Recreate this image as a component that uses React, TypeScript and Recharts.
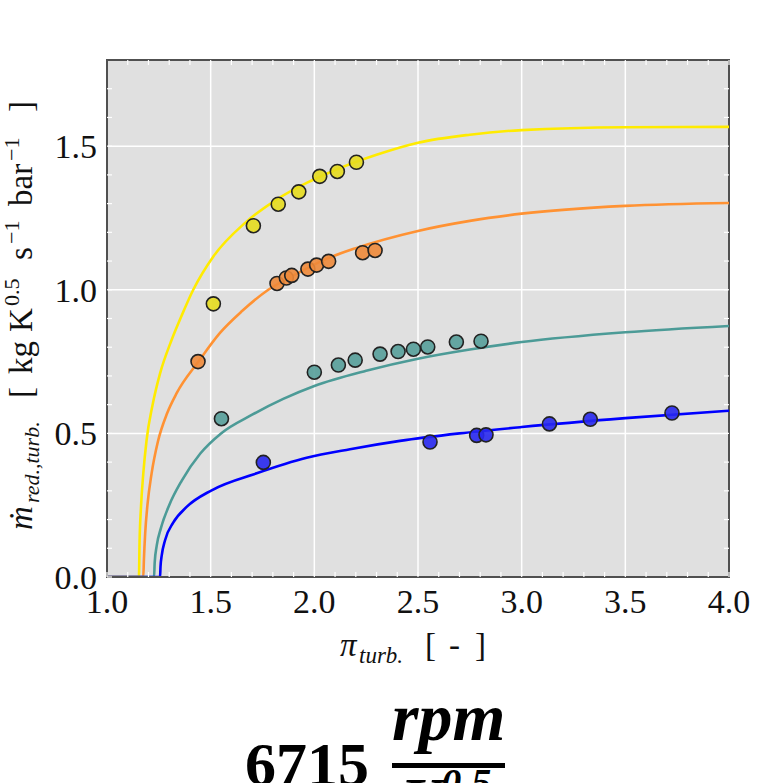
import React from 'react'
import {
  CartesianGrid,
  ComposedChart,
  Line,
  ReferenceArea,
  ReferenceLine,
  Scatter,
  XAxis,
  YAxis,
} from 'recharts'

// axis ticks
const xMajorTicks = [1.0, 1.5, 2.0, 2.5, 3.0, 3.5, 4.0]
const yMajorTicks = [0.0, 0.5, 1.0, 1.5]
const xAllTicks = [
  1.0, 1.1, 1.2, 1.3, 1.4, 1.5, 1.6, 1.7, 1.8, 1.9, 2.0, 2.1, 2.2, 2.3, 2.4, 2.5,
  2.6, 2.7, 2.8, 2.9, 3.0, 3.1, 3.2, 3.3, 3.4, 3.5, 3.6, 3.7, 3.8, 3.9, 4.0,
]
const yAllTicks = [
  0.0, 0.1, 0.2, 0.3, 0.4, 0.5, 0.6, 0.7, 0.8, 0.9, 1.0, 1.1, 1.2, 1.3, 1.4, 1.5, 1.6, 1.7,
]

// measured points (pi_turb, m_red)
const yellowPtsX = [1.513, 1.706, 1.826, 1.925, 2.026, 2.111, 2.203]
const yellowPtsY = [0.951, 1.223, 1.298, 1.341, 1.395, 1.412, 1.444]
const orangePtsX = [1.439, 1.82, 1.865, 1.891, 1.969, 2.011, 2.069, 2.233, 2.293]
const orangePtsY = [0.75, 1.022, 1.041, 1.05, 1.072, 1.086, 1.099, 1.129, 1.137]
const tealPtsX = [1.552, 2.0, 2.116, 2.197, 2.317, 2.404, 2.478, 2.547, 2.685, 2.804]
const tealPtsY = [0.551, 0.713, 0.738, 0.755, 0.776, 0.785, 0.793, 0.801, 0.818, 0.821]
const bluePtsX = [1.754, 2.558, 2.783, 2.828, 3.134, 3.331, 3.725]
const bluePtsY = [0.399, 0.47, 0.493, 0.495, 0.533, 0.549, 0.571]

// fitted map curves
const yellowCurveX = [1.0, 1.154, 1.157, 1.164, 1.175, 1.191, 1.22, 1.256, 1.312, 1.36, 1.416, 1.513, 1.666, 1.818, 1.963, 2.108, 2.3, 2.5, 2.75, 3.0, 3.5, 4.0]
const yellowCurveY = [0, 0, 0.12, 0.244, 0.36, 0.477, 0.6, 0.709, 0.826, 0.91, 1.0, 1.116, 1.233, 1.314, 1.372, 1.419, 1.47, 1.512, 1.54, 1.556, 1.566, 1.567]
const orangeCurveX = [1.0, 1.175, 1.178, 1.184, 1.195, 1.215, 1.245, 1.29, 1.336, 1.441, 1.545, 1.65, 1.778, 1.9, 2.05, 2.2, 2.5, 2.75, 3.0, 3.5, 4.0]
const orangeCurveY = [0, 0, 0.06, 0.15, 0.25, 0.36, 0.47, 0.57, 0.64, 0.75, 0.85, 0.925, 1.0, 1.05, 1.105, 1.145, 1.205, 1.24, 1.265, 1.292, 1.302]
const tealCurveX = [1.0, 1.227, 1.23, 1.24, 1.26, 1.3, 1.36, 1.45, 1.55, 1.7, 1.85, 2.0, 2.25, 2.5, 2.75, 3.0, 3.5, 4.0]
const tealCurveY = [0, 0, 0.05, 0.11, 0.17, 0.25, 0.335, 0.43, 0.5, 0.565, 0.62, 0.665, 0.718, 0.76, 0.792, 0.818, 0.852, 0.874]
const blueCurveX = [1.0, 1.256, 1.258, 1.264, 1.28, 1.32, 1.384, 1.505, 1.722, 1.963, 2.172, 2.413, 2.7, 3.0, 3.5, 4.0]
const blueCurveY = [0, 0, 0.035, 0.075, 0.128, 0.19, 0.244, 0.302, 0.361, 0.415, 0.445, 0.474, 0.5, 0.522, 0.553, 0.579]

const zip = (xs: number[], ys: number[]) => xs.map((x, i) => ({ x, y: ys[i] }))

const series = [
  { name: 'y', curve: zip(yellowCurveX, yellowCurveY), pts: zip(yellowPtsX, yellowPtsY), line: '#FFEB00', dot: '#E6DC1E' },
  { name: 'o', curve: zip(orangeCurveX, orangeCurveY), pts: zip(orangePtsX, orangePtsY), line: '#FF9233', dot: '#EE8A3A' },
  { name: 't', curve: zip(tealCurveX, tealCurveY), pts: zip(tealPtsX, tealPtsY), line: '#4C9B97', dot: '#569F9A' },
  { name: 'b', curve: zip(blueCurveX, blueCurveY), pts: zip(bluePtsX, bluePtsY), line: '#0000FF', dot: '#2828EE' },
]

const SERIF = '"Liberation Serif", "DejaVu Serif", serif'
const FRAME = '#505050'
const isMajor = (list: number[], v: number) => list.some((m) => Math.abs(m - v) < 1e-6)

function BottomTick({ x, y, payload }: any) {
  const v = payload.value
  return (
    <g>
      <line x1={x} x2={x} y1={y} y2={y - 5} stroke="#fff" strokeWidth={1.2} />
      {isMajor(xMajorTicks, v) && (
        <text x={x} y={y + 36} textAnchor="middle" fontFamily={SERIF} fontSize={34} fill="#111">
          {v.toFixed(1)}
        </text>
      )}
    </g>
  )
}

function LeftTick({ x, y, payload }: any) {
  const v = payload.value
  return (
    <g>
      <line x1={x} x2={x + 5} y1={y} y2={y} stroke="#fff" strokeWidth={1.2} />
      {isMajor(yMajorTicks, v) && (
        <text x={x - 10} y={y + 12} textAnchor="end" fontFamily={SERIF} fontSize={34} fill="#111">
          {v.toFixed(1)}
        </text>
      )}
    </g>
  )
}

// small inward ticks on the top and right spines
const topTick = (p: any) => {
  const top = Math.min(p.y1, p.y2)
  return <line x1={p.x1} x2={p.x1} y1={top} y2={top + 5} stroke="#fff" strokeWidth={1.2} />
}
const rightTick = (p: any) => {
  const right = Math.max(p.x1, p.x2)
  return <line x1={right} x2={right - 5} y1={p.y1} y2={p.y1} stroke="#fff" strokeWidth={1.2} />
}

const marker = (fill: string) => (p: any) => (
  <circle cx={p.cx} cy={p.cy} r={7} fill={fill} fillOpacity={0.9} stroke="#222" strokeWidth={1.6} />
)

export default function App() {
  return (
    <div
      style={{
        position: 'absolute',
        left: 0,
        top: 0,
        width: 764,
        height: 783,
        overflow: 'hidden',
        background: '#fff',
      }}
    >
      <ComposedChart width={764} height={783} margin={{ top: 60, right: 35, bottom: 156, left: 7 }}>
        <CartesianGrid
          fill="#E0E0E0"
          stroke="#fff"
          strokeWidth={1.5}
          verticalValues={xMajorTicks}
          horizontalValues={yMajorTicks}
        />
        <XAxis
          dataKey="x"
          type="number"
          domain={[1, 4]}
          allowDataOverflow
          ticks={xAllTicks}
          interval={0}
          height={50}
          tickSize={0}
          tickMargin={0}
          tickLine={false}
          tick={<BottomTick />}
          axisLine={{ stroke: FRAME, strokeWidth: 2 }}
        />
        <YAxis
          type="number"
          domain={[0, 1.8]}
          allowDataOverflow
          ticks={yAllTicks}
          interval={0}
          width={100}
          tickSize={0}
          tickMargin={0}
          tickLine={false}
          tick={<LeftTick />}
          axisLine={{ stroke: FRAME, strokeWidth: 2 }}
        />
        {xAllTicks.map((v) => (
          <ReferenceLine key={'tx' + v} x={v} stroke="none" shape={topTick} />
        ))}
        {yAllTicks.map((v) => (
          <ReferenceLine key={'ry' + v} y={v} stroke="none" shape={rightTick} />
        ))}
        <ReferenceArea x1={1} x2={4} y1={0} y2={1.8} fill="none" stroke={FRAME} strokeWidth={2} />
        {series.map((s) => (
          <Line
            key={'l' + s.name}
            data={s.curve}
            dataKey="y"
            type="monotone"
            stroke={s.line}
            strokeWidth={2.6}
            dot={false}
            activeDot={false}
            isAnimationActive={false}
          />
        ))}
        {series.map((s) => (
          <Scatter
            key={'s' + s.name}
            data={s.pts}
            dataKey="y"
            shape={marker(s.dot)}
            isAnimationActive={false}
          />
        ))}
      </ComposedChart>

      <svg
        width={764}
        height={783}
        style={{ position: 'absolute', left: 0, top: 0, pointerEvents: 'none' }}
      >
        {/* y axis title */}
        <text transform="translate(32,530) rotate(-90)" fontFamily={SERIF} fontSize={33} fill="#111">
          <tspan x={0} fontStyle="italic">ṁ</tspan>
          <tspan x={27} dy={7} fontStyle="italic" fontSize={22}>red.,turb.</tspan>
          <tspan x={132} dy={-7}>[</tspan>
          <tspan x={156}>kg</tspan>
          <tspan x={198}>K</tspan>
          <tspan x={224} dy={-13} fontSize={22}>0.5</tspan>
          <tspan x={270} dy={13}>s</tspan>
          <tspan x={286} dy={-13} fontSize={22}>−1</tspan>
          <tspan x={324} dy={13}>bar</tspan>
          <tspan x={369} dy={-13} fontSize={22}>−1</tspan>
          <tspan x={418} dy={13}>]</tspan>
        </text>

        {/* x axis title */}
        <text y={656} fontFamily={SERIF} fontSize={33} fill="#111">
          <tspan x={340} fontStyle="italic">π</tspan>
          <tspan x={359} dy={7} fontStyle="italic" fontSize={23}>turb.</tspan>
          <tspan x={425} dy={-7}>[</tspan>
          <tspan x={449}>-</tspan>
          <tspan x={475}>]</tspan>
        </text>

        {/* operating speed caption */}
        <text x={245} y={785} fontFamily={SERIF} fontSize={62} fontWeight="bold" fill="#000">
          6715
        </text>
        <text x={392} y={740} fontFamily={SERIF} fontSize={68} fontWeight="bold" fontStyle="italic" fill="#000">
          rpm
        </text>
        <rect x={392} y={763} width={113} height={5} fill="#000" />
        <text x={400} y={820} fontFamily={SERIF} fontSize={62} fontWeight="bold" fontStyle="italic" fill="#000">
          K<tspan fontSize={40} dy={-24}>0.5</tspan>
        </text>
      </svg>
    </div>
  )
}
